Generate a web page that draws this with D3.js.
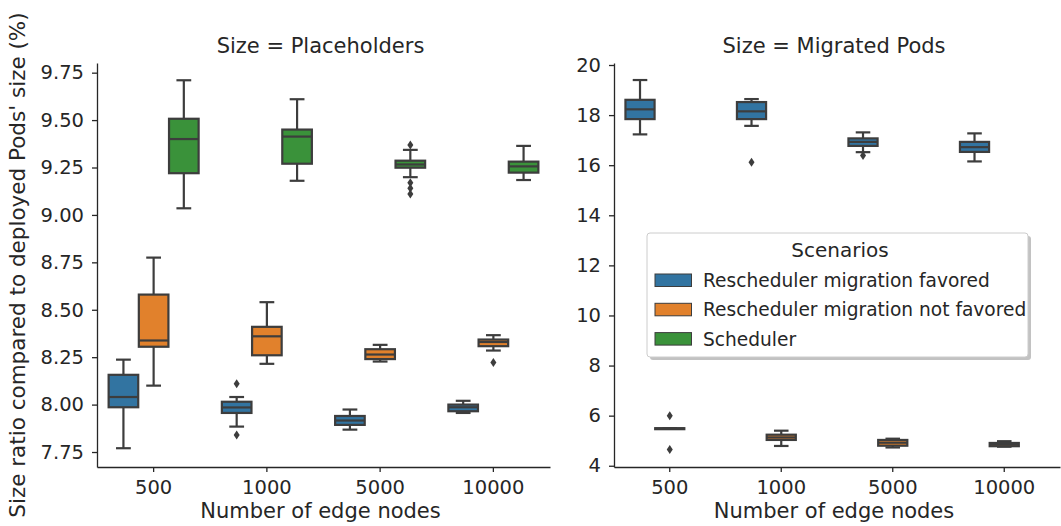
<!DOCTYPE html>
<html lang="en">
<head>
  <meta charset="UTF-8">
  <title>Size ratio boxplots</title>
  <script src="https://d3js.org/d3.v7.min.js"></script>
  <style>
    body { margin: 0; background: #fff; }
    text { font-family: "DejaVu Sans", sans-serif; fill: #262626; }
  </style>
</head>
<body>
<div class="canvas"></div>
<script>
  // categories and groups
  const edgeNodes = ['500', '1000', '5000', '10000'];
  const scenarios = ['Rescheduler migration favored', 'Rescheduler migration not favored', 'Scheduler'];
  const colors = ['#3274a1', '#e1812c', '#3a923a'];

  // box stats per category: [whisker low, q1, median, q3, whisker high]
  const placeFavored = [[7.77, 7.986, 8.04, 8.157, 8.237], [7.884, 7.956, 7.985, 8.015, 8.04], [7.868, 7.893, 7.916, 7.94, 7.974], [7.956, 7.965, 7.986, 8.00, 8.02]];
  const placeNotFavored = [[8.10, 8.305, 8.338, 8.58, 8.775], [8.215, 8.26, 8.36, 8.41, 8.54], [8.227, 8.24, 8.264, 8.292, 8.315], [8.285, 8.308, 8.33, 8.343, 8.366]];
  const placeScheduler = [[9.035, 9.22, 9.40, 9.507, 9.71], [9.18, 9.27, 9.413, 9.45, 9.61], [9.199, 9.249, 9.266, 9.286, 9.343], [9.184, 9.223, 9.256, 9.281, 9.364]];
  const placeFavoredOut = [[], [8.11, 7.84], [], []];
  const placeNotFavoredOut = [[], [], [], [8.222]];
  const placeSchedulerOut = [[], [], [9.369, 9.17, 9.14, 9.11], []];

  const migFavored = [[17.23, 17.84, 18.23, 18.61, 19.4], [17.57, 17.84, 18.15, 18.52, 18.64], [16.52, 16.77, 16.93, 17.07, 17.31], [16.15, 16.53, 16.72, 16.93, 17.27]];
  const migNotFavored = [[5.48, 5.48, 5.48, 5.48, 5.48], [4.79, 5.03, 5.13, 5.24, 5.4], [4.73, 4.8, 4.92, 5.03, 5.08], [4.76, 4.78, 4.85, 4.91, 4.98]];
  const migFavoredOut = [[], [16.12], [16.39], []];
  const migNotFavoredOut = [[6.0, 4.65], [], [], []];

  const placeTicks = [7.75, 8.00, 8.25, 8.50, 8.75, 9.00, 9.25, 9.50, 9.75];
  const migTicks = [4, 6, 8, 10, 12, 14, 16, 18, 20];

  const lineColor = '#3d3d3d';
  const axisColor = '#262626';
  const lw = 2.2;

  const svg = d3.select('.canvas')
    .append('svg')
    .attr('width', 1061)
    .attr('height', 526)

  const panels = [
    {
      title: 'Size = Placeholders',
      xRange: [97, 550], yDomain: [7.671, 9.801], ticks: placeTicks, fmt: d3.format('.2f'),
      series: [[placeFavored, placeFavoredOut], [placeNotFavored, placeNotFavoredOut], [placeScheduler, placeSchedulerOut]]
    },
    {
      title: 'Size = Migrated Pods',
      xRange: [614, 1060], yDomain: [3.95, 20.08], ticks: migTicks, fmt: d3.format('d'),
      series: [[migFavored, migFavoredOut], [migNotFavored, migNotFavoredOut]]
    }
  ]

  const diamond = 'M0,-4.5L3,0L0,4.5L-3,0Z'

  panels.forEach(p => {
    const x = d3.scaleBand().domain(edgeNodes).range(p.xRange).padding(0)
    const hue = d3.scaleBand().domain(scenarios)
      .range([x.bandwidth() * 0.1, x.bandwidth() * 0.9])
    const y = d3.scaleLinear().domain(p.yDomain).range([467, 63])
    const g = svg.append('g')

    // boxes
    p.series.forEach((s, si) => {
      const [stats, outs] = s
      const bw = hue.bandwidth() * 0.98
      stats.forEach((st, ci) => {
        const cx = x(edgeNodes[ci]) + hue(scenarios[si]) + hue.bandwidth() / 2
        const box = g.append('g')
        // whiskers
        box.append('line')
          .attr('x1', cx).attr('x2', cx)
          .attr('y1', y(st[0])).attr('y2', y(st[1]))
          .attr('stroke', lineColor).attr('stroke-width', lw)
        box.append('line')
          .attr('x1', cx).attr('x2', cx)
          .attr('y1', y(st[3])).attr('y2', y(st[4]))
          .attr('stroke', lineColor).attr('stroke-width', lw)
        // caps
        ;[st[0], st[4]].forEach(v => {
          box.append('line')
            .attr('x1', cx - bw / 4).attr('x2', cx + bw / 4)
            .attr('y1', y(v)).attr('y2', y(v))
            .attr('stroke', lineColor).attr('stroke-width', lw)
        })
        // flat boxes still get drawn as a thick bar
        const h = Math.max(1, y(st[1]) - y(st[3]))
        box.append('rect')
          .attr('x', cx - bw / 2)
          .attr('y', (y(st[1]) + y(st[3])) / 2 - h / 2)
          .attr('width', bw)
          .attr('height', h)
          .attr('fill', colors[si])
          .attr('stroke', lineColor).attr('stroke-width', lw)
        box.append('line')
          .attr('x1', cx - bw / 2).attr('x2', cx + bw / 2)
          .attr('y1', y(st[2])).attr('y2', y(st[2]))
          .attr('stroke', lineColor).attr('stroke-width', lw)
        // outliers
        box.selectAll('path.out')
          .data(outs[ci])
          .enter()
          .append('path')
          .attr('class', 'out')
          .attr('d', diamond)
          .attr('transform', d => `translate(${cx}, ${y(d)})`)
          .attr('fill', lineColor)
      })
    })

    // axes
    const xAxis = g.append('g')
      .attr('transform', 'translate(0, 467)')
      .call(d3.axisBottom(x).tickSize(5).tickSizeOuter(0).tickPadding(8))
    const yAxis = g.append('g')
      .attr('transform', `translate(${p.xRange[0]}, 0)`)
      .call(d3.axisLeft(y).tickValues(p.ticks).tickFormat(p.fmt).tickSize(5).tickSizeOuter(0).tickPadding(8))
    ;[xAxis, yAxis].forEach(a => {
      a.selectAll('path, line').attr('stroke', axisColor).attr('stroke-width', 1.3)
      a.selectAll('text').style('font-size', '19.5px').attr('fill', axisColor)
    })

    g.append('text')
      .attr('x', (p.xRange[0] + p.xRange[1]) / 2 - 3)
      .attr('y', 53)
      .attr('text-anchor', 'middle')
      .style('font-size', '21px')
      .text(p.title)

    g.append('text')
      .attr('x', (p.xRange[0] + p.xRange[1]) / 2 - 3)
      .attr('y', 518)
      .attr('text-anchor', 'middle')
      .style('font-size', '21px')
      .text('Number of edge nodes')
  })

  svg.append('text')
    .attr('transform', 'translate(25, 265) rotate(-90)')
    .attr('text-anchor', 'middle')
    .style('font-size', '21.5px')
    .text("Size ratio compared to deployed Pods' size (%)")

  // legend
  const legend = svg.append('g').attr('transform', 'translate(647, 233)')
  legend.append('rect')
    .attr('x', 3).attr('y', 3)
    .attr('width', 381).attr('height', 124)
    .attr('rx', 3)
    .attr('fill', '#999').attr('opacity', 0.6)
  legend.append('rect')
    .attr('width', 381).attr('height', 124)
    .attr('rx', 3)
    .attr('fill', '#fff').attr('stroke', '#cccccc').attr('stroke-width', 1)
  legend.append('text')
    .attr('x', 193).attr('y', 24)
    .attr('text-anchor', 'middle')
    .style('font-size', '20px')
    .text('Scenarios')
  const items = legend.selectAll('g.item')
    .data(scenarios)
    .enter()
    .append('g')
    .attr('class', 'item')
    .attr('transform', (d, i) => `translate(8, ${41 + i * 29.3})`)
  items.append('rect')
    .attr('width', 36.5).attr('height', 12.5)
    .attr('fill', (d, i) => colors[i])
    .attr('stroke', lineColor).attr('stroke-width', 1)
  items.append('text')
    .attr('x', 48).attr('y', 13)
    .style('font-size', '18.6px')
    .text(d => d)
</script>
</body>
</html>
